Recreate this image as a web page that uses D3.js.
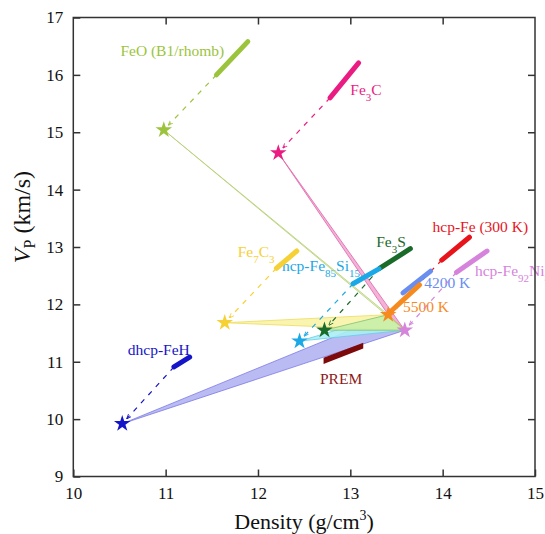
<!DOCTYPE html>
<html>
<head>
<meta charset="utf-8">
<script src="https://cdn.jsdelivr.net/npm/d3@7"></script>
<style>
  body { margin: 0; background: #fff; }
  svg { display: block; }
  text { font-family: "Liberation Serif", "Times New Roman", serif; }
</style>
</head>
<body>
<svg id="chart" width="545" height="534"></svg>
<script>
// ---- data ----
var xTicks = [10, 11, 12, 13, 14, 15];
var yTicks = [9, 10, 11, 12, 13, 14, 15, 16, 17];

// stars: light-element end members, hcp-Fe at 5500 K, hcp-Fe92Ni8
var starKeys = ["FeO", "Fe3C", "Fe7C3", "Fe3S", "FeSi", "FeH", "Fe5500", "FeNi"];
var starRho  = [10.98, 12.22, 11.64, 12.72, 12.45, 10.53, 13.41, 13.59];
var starVp   = [15.04, 14.64, 11.68, 11.55, 11.36,  9.92, 11.82, 11.55];

// measured (thick) segments
var segKeys = ["FeO", "Fe3C", "Fe7C3", "Fe3S", "FeSi", "FeH", "Fe300", "Fe4200", "Fe5500", "FeNi"];
var segRho0 = [11.55, 12.78, 12.20, 13.32, 13.03, 11.09, 13.99, 13.57, 13.44, 14.15];
var segVp0  = [16.00, 15.60, 12.63, 12.63, 12.36, 10.91, 12.77, 12.20, 11.88, 12.56];
var segRho1 = [11.89, 13.09, 12.42, 13.65, 13.31, 11.26, 14.29, 13.87, 13.75, 14.48];
var segVp1  = [16.58, 16.21, 12.93, 12.97, 12.62, 11.08, 13.17, 12.58, 12.34, 12.93];

// dashed extrapolations: segment -> star
var dashSeg  = ["FeO", "Fe3C", "Fe7C3", "Fe3S", "FeSi", "FeH", "FeNi", "Fe300"];
var dashStar = ["FeO", "Fe3C", "Fe7C3", "Fe3S", "FeSi", "FeH", "FeNi", "Fe5500"];

// mixing fans from each light-element star to the two Fe end members
var fanKeys = ["FeH", "FeSi", "Fe7C3", "Fe3S", "Fe3C", "FeO"];
var fanEnds = ["Fe5500", "FeNi"];

// PREM inner core band
var premRho  = [12.71, 13.14];
var premLow  = [10.96, 11.23];
var premHigh = [11.07, 11.33];

var colors = {
  FeO: "#9bc43c", Fe3C: "#ea1c82", Fe7C3: "#f6d135", Fe3S: "#1a6a2a",
  FeSi: "#1ba8e6", FeH: "#1414c8", Fe300: "#e8141c", Fe4200: "#6a8ef0",
  Fe5500: "#f68a1e", FeNi: "#d683dc", PREM: "#7d0a0a"
};
var fanFill = { FeH: "#b4b4f2", FeSi: "#aaeef4", Fe7C3: "#f8f4a8", Fe3S: "#c8eea8", Fe3C: "#f2aad4", FeO: "#dfe9b4" };
var fanEdge = { FeH: "#7a7ae4", FeSi: "#66cce8", Fe7C3: "#eedc5c", Fe3S: "#80c070", Fe3C: "#e064aa", FeO: "#b4cf74" };

// labels: pieces [text, isSub]
var labelKeys = ["FeO", "Fe3C", "Fe7C3", "FeSi", "Fe3S", "Fe300", "FeNi", "Fe4200", "Fe5500", "FeH", "PREM"];
var labelParts = [
  [["FeO (B1/rhomb)", 0]],
  [["Fe", 0], ["3", 1], ["C", 0]],
  [["Fe", 0], ["7", 1], ["C", 0], ["3", 1]],
  [["hcp-Fe", 0], ["85", 1], ["Si", 0], ["15", 1]],
  [["Fe", 0], ["3", 1], ["S", 0]],
  [["hcp-Fe (300 K)", 0]],
  [["hcp-Fe", 0], ["92", 1], ["Ni", 0], ["8", 1]],
  [["4200 K", 0]],
  [["5500 K", 0]],
  [["dhcp-FeH", 0]],
  [["PREM", 0]]
];
var labelRho = [10.51, 13.00, 11.78, 12.26, 13.28, 13.89, 14.35, 13.80, 13.57, 10.59, 12.90];
var labelVp  = [16.33, 15.65, 12.83, 12.58, 13.00, 13.27, 12.49, 12.28, 11.87, 11.12, 10.62];

// ---- chart ----
var svg = d3.select("#chart");
var x = d3.scaleLinear().domain([10, 15]).range([73.3, 535]);
var y = d3.scaleLinear().domain([9, 17]).range([476.5, 17.5]);

function star(k) { var i = starKeys.indexOf(k); return [x(starRho[i]), y(starVp[i])]; }
function segStart(k) { var i = segKeys.indexOf(k); return [x(segRho0[i]), y(segVp0[i])]; }
function segEnd(k) { var i = segKeys.indexOf(k); return [x(segRho1[i]), y(segVp1[i])]; }

// small arrow markers per colour
var defs = svg.append("defs");
Object.keys(colors).forEach(function(k) {
  defs.append("marker")
    .attr("id", "arr-" + k)
    .attr("viewBox", "0 -4 8 8")
    .attr("refX", 7).attr("refY", 0)
    .attr("markerWidth", 5).attr("markerHeight", 5)
    .attr("markerUnits", "userSpaceOnUse")
    .attr("orient", "auto")
    .append("path").attr("d", "M0,-3L8,0L0,3").attr("fill", "none")
    .attr("stroke", colors[k]).attr("stroke-width", 1.3);
});

// labels (under the lines, like the original)
var labels = svg.append("g").attr("font-size", 15.5);
labelKeys.forEach(function(k, i) {
  var t = labels.append("text")
    .attr("x", x(labelRho[i])).attr("y", y(labelVp[i]))
    .attr("fill", k == "PREM" ? "#8b1a1a" : colors[k])
    .attr("text-anchor", k == "PREM" ? "middle" : "start");
  var wasSub = false;
  labelParts[i].forEach(function(p) {
    var s = t.append("tspan").text(p[0]);
    if (p[1] && !wasSub) s.attr("dy", 6).attr("font-size", 11);
    else if (p[1]) s.attr("font-size", 11);
    else if (wasSub) s.attr("dy", -6);
    wasSub = !!p[1];
  });
});

// fans
var fans = svg.append("g");
fanKeys.forEach(function(k) {
  var pts = [star(k), star(fanEnds[0]), star(fanEnds[1])];
  fans.append("path")
    .attr("d", "M" + pts.join("L") + "Z")
    .attr("fill", fanFill[k]).attr("fill-opacity", k == "FeO" ? 0.6 : 0.9)
    .attr("stroke", fanEdge[k]).attr("stroke-width", 0.8)
    .attr("stroke-linejoin", "round");
});

// PREM band
var area = d3.area()
  .x(function(d) { return x(d[0]); })
  .y0(function(d) { return y(d[1]); })
  .y1(function(d) { return y(d[2]); });
svg.append("path")
  .datum(premRho.map(function(r, i) { return [r, premLow[i], premHigh[i]]; }))
  .attr("d", area)
  .attr("fill", colors.PREM);

// dashed extrapolations
var dashes = svg.append("g");
dashSeg.forEach(function(k, i) {
  var a = segStart(k), b = star(dashStar[i]);
  var dx = a[0] - b[0], dy = a[1] - b[1], len = Math.sqrt(dx * dx + dy * dy);
  var bb = [b[0] + dx / len * 7, b[1] + dy / len * 7];
  dashes.append("line")
    .attr("x1", a[0]).attr("y1", a[1]).attr("x2", bb[0]).attr("y2", bb[1])
    .attr("stroke", colors[k]).attr("stroke-width", 1.2)
    .attr("stroke-dasharray", "5,6")
    .attr("marker-end", "url(#arr-" + k + ")");
});

// thick measured segments
var segs = svg.append("g");
segKeys.forEach(function(k) {
  var a = segStart(k), b = segEnd(k);
  segs.append("line")
    .attr("x1", a[0]).attr("y1", a[1]).attr("x2", b[0]).attr("y2", b[1])
    .attr("stroke", colors[k]).attr("stroke-width", 5)
    .attr("stroke-linecap", "round");
});

// stars
var starSym = d3.symbol().type(d3.symbolStar).size(85);
starKeys.forEach(function(k) {
  var p = star(k);
  svg.append("path")
    .attr("d", starSym())
    .attr("transform", "translate(" + p[0] + "," + p[1] + ")")
    .attr("fill", colors[k]);
});

// axes
var axisColor = "#333";
var gx = svg.append("g").attr("transform", "translate(0," + y(9) + ")")
  .call(d3.axisBottom(x).tickValues(xTicks).tickSize(-7).tickFormat(d3.format("d")));
gx.selectAll("text").attr("y", 22).attr("dy", null);
var gy = svg.append("g").attr("transform", "translate(" + x(10) + ",0)")
  .call(d3.axisLeft(y).tickValues(yTicks).tickSize(-7).tickPadding(10).tickFormat(d3.format("d")));
var gt = svg.append("g").attr("transform", "translate(0," + y(17) + ")")
  .call(d3.axisTop(x).tickValues([11, 12, 13, 14]).tickSize(-7).tickFormat(""));
var gr = svg.append("g").attr("transform", "translate(" + x(15) + ",0)")
  .call(d3.axisRight(y).tickValues([10, 11, 12, 13, 14, 15, 16]).tickSize(-7).tickFormat(""));
[gx, gy, gt, gr].forEach(function(g) {
  g.select(".domain").remove();
  g.selectAll("line").attr("stroke", axisColor).attr("stroke-width", 1.5);
  g.selectAll("text").attr("font-size", 17).attr("fill", "#111")
    .attr("font-family", "Liberation Serif, Times New Roman, serif");
});
svg.append("rect")
  .attr("x", x(10)).attr("y", y(17))
  .attr("width", x(15) - x(10)).attr("height", y(9) - y(17))
  .attr("fill", "none").attr("stroke", axisColor).attr("stroke-width", 1.5);

// axis titles
var xt = svg.append("text")
  .attr("x", (x(10) + x(15)) / 2).attr("y", 529)
  .attr("text-anchor", "middle").attr("font-size", 22).attr("fill", "#111");
xt.append("tspan").text("Density (g/cm");
xt.append("tspan").text("3").attr("font-size", 14).attr("dy", -9);
xt.append("tspan").text(")").attr("dy", 9);

var yt = svg.append("text")
  .attr("transform", "translate(30," + ((y(9) + y(17)) / 2 - 30) + ") rotate(-90)")
  .attr("text-anchor", "middle").attr("font-size", 24).attr("fill", "#111");
yt.append("tspan").text("V").attr("font-style", "italic");
yt.append("tspan").text("P").attr("font-size", 16).attr("dy", 5);
yt.append("tspan").text(" (km/s)").attr("dy", -5);
</script>
</body>
</html>
